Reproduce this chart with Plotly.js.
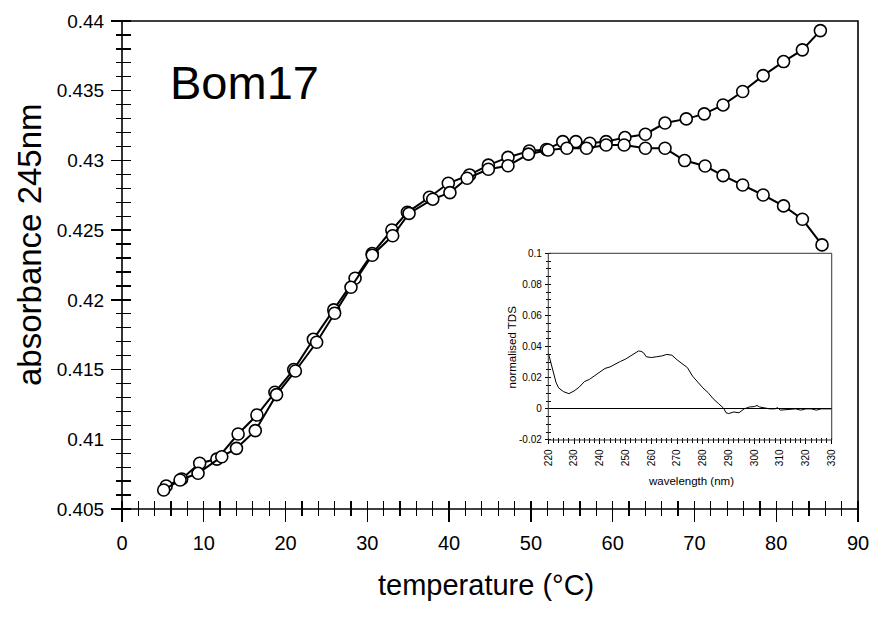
<!DOCTYPE html>
<html>
<head>
<meta charset="utf-8">
<script src="https://cdn.plot.ly/plotly-3.0.1.min.js"></script>
<style>html,body{margin:0;padding:0;background:#fff;}#chart{width:875px;height:617px;}</style>
</head>
<body>
<div id="chart"></div>
<script>
// ---- main chart data: absorbance at 245 nm vs temperature ----
var tempUp = [5.4, 7.3, 9.5, 11.6, 14.2, 16.5, 18.7, 21.0, 23.4, 25.9, 28.5, 30.6, 33.0, 34.9, 37.6, 39.9, 42.5, 44.8, 47.2, 49.8, 51.9, 53.9, 55.5, 57.2, 59.2, 61.5, 64.0, 66.4, 69.0, 71.2, 73.5, 75.9, 78.4, 80.9, 83.2, 85.4];
var absUp  = [0.40665, 0.40715, 0.40828, 0.40858, 0.41038, 0.41174, 0.41337, 0.41500, 0.41717, 0.41928, 0.42155, 0.42332, 0.42501, 0.42628, 0.42736, 0.42836, 0.42896, 0.42966, 0.43022, 0.43068, 0.43078, 0.43135, 0.43135, 0.43123, 0.43135, 0.43164, 0.43188, 0.43268, 0.43298, 0.43334, 0.43398, 0.43494, 0.43608, 0.43709, 0.43793, 0.43931];
var tempDown = [5.1, 7.1, 9.3, 12.2, 14.0, 16.3, 18.9, 21.2, 23.8, 26.0, 28.0, 30.6, 33.1, 35.1, 38.0, 40.1, 42.2, 44.8, 47.2, 49.7, 52.1, 54.4, 56.8, 59.2, 61.4, 64.0, 66.4, 68.8, 71.3, 73.5, 75.9, 78.4, 80.9, 83.2, 85.6];
var absDown  = [0.40636, 0.40708, 0.40756, 0.40875, 0.40935, 0.41062, 0.41320, 0.41490, 0.41696, 0.41904, 0.42090, 0.42320, 0.42460, 0.42620, 0.42722, 0.42769, 0.42872, 0.42937, 0.42962, 0.43045, 0.43075, 0.43087, 0.43087, 0.43111, 0.43111, 0.43087, 0.43087, 0.42999, 0.42960, 0.42891, 0.42824, 0.42752, 0.42674, 0.42578, 0.42394];
var xTickVals = [0, 10, 20, 30, 40, 50, 60, 70, 80, 90];
var xTickText = ["0", "10", "20", "30", "40", "50", "60", "70", "80", "90"];
var yTickVals = [0.405, 0.41, 0.415, 0.42, 0.425, 0.43, 0.435, 0.44];
var yTickText = ["0.405", "0.41", "0.415", "0.42", "0.425", "0.43", "0.435", "0.44"];

// ---- inset data: normalised TDS vs wavelength ----
var wavelength = [220,221,222,223,224,225,226,228,230,232,234,236,238,240,242,244,246,248,250,252,254,255,256,257,258,260,262,264,266,268,270,272,274,276,278,280,282,284,286,288,289,290,292,294,296,298,300,301,302,304,306,308,309,310,312,314,316,318,320,322,324,326,328,330];
var tds = [0.036,0.029,0.022,0.017,0.0135,0.012,0.011,0.0098,0.0115,0.014,0.0175,0.019,0.0215,0.0235,0.026,0.027,0.029,0.0305,0.032,0.034,0.036,0.0372,0.037,0.036,0.0335,0.033,0.0335,0.034,0.035,0.0345,0.0315,0.029,0.0265,0.021,0.017,0.0135,0.0105,0.0065,0.0035,0.0005,-0.0025,-0.003,-0.002,-0.0025,0.0,0.0012,0.0015,0.0022,0.0012,0.0005,0.0,0.0,0.0008,-0.0008,-0.0005,0.0,0.0,-0.0008,0.0,0.0,-0.0008,0.0,0.0002,0.0];
var insetXTickVals = [220,230,240,250,260,270,280,290,300,310,320,330];
var insetXTickText = ["220","230","240","250","260","270","280","290","300","310","320","330"];
var insetYTickVals = [-0.02, 0, 0.02, 0.04, 0.06, 0.08, 0.1];
var insetYTickText = ["-0.02", "0", "0.02", "0.04", "0.06", "0.08", "0.1"];

var FONT = "Liberation Sans, Arial, Helvetica, sans-serif";
var W = 875, H = 617, ML = 122, MR = 17, MT = 21, MB = 108;
var PW = W - ML - MR, PH = H - MT - MB;

var marker = {symbol: "circle", size: 12, color: "#ffffff", line: {color: "#000000", width: 1.6}};
var traces = [
  {x: tempUp, y: absUp, type: "scatter", mode: "lines+markers", line: {color: "#000", width: 2}, marker: marker, xaxis: "x", yaxis: "y", hoverinfo: "x+y"},
  {x: tempDown, y: absDown, type: "scatter", mode: "lines+markers", line: {color: "#000", width: 2}, marker: marker, xaxis: "x", yaxis: "y", hoverinfo: "x+y"},
  {x: wavelength, y: tds, type: "scatter", mode: "lines", line: {color: "#000", width: 1}, xaxis: "x2", yaxis: "y2", hoverinfo: "x+y"}
];

// axes are placed a few px inside the frame so that their outside ticks cross the frame line
var inMain = 9, inInset = 3;
var insetDomX = [0.5792, 0.9643], insetDomY = [0.1414, 0.524];

var layout = {
  width: W, height: H,
  margin: {l: ML, r: MR, t: MT, b: MB, pad: 0},
  paper_bgcolor: "#ffffff", plot_bgcolor: "rgba(0,0,0,0)",
  showlegend: false,
  font: {family: FONT, color: "#000"},
  xaxis: {domain: [0, 1], range: [0, 90], anchor: "free", position: inMain / PH,
    tickmode: "array", tickvals: xTickVals, ticktext: xTickText,
    ticks: "outside", ticklen: inMain + 12, tickwidth: 1.3, tickcolor: "#000",
    minor: {dtick: 2, ticks: "outside", ticklen: inMain + 6, tickwidth: 1.3, tickcolor: "#000"},
    showline: false, showgrid: false, zeroline: false, fixedrange: true,
    tickfont: {family: FONT, size: 20, color: "#000"}, ticklabelstandoff: 4},
  yaxis: {domain: [0, 1], range: [0.405, 0.44], anchor: "free", position: inMain / PW,
    tickmode: "array", tickvals: yTickVals, ticktext: yTickText,
    ticks: "outside", ticklen: inMain + 11, tickwidth: 1.3, tickcolor: "#000",
    minor: {dtick: 0.001, ticks: "outside", ticklen: inMain + 6, tickwidth: 1.3, tickcolor: "#000"},
    showline: false, showgrid: false, zeroline: false, fixedrange: true,
    tickfont: {family: FONT, size: 19, color: "#000"}, ticklabelstandoff: 3},
  xaxis2: {domain: insetDomX, range: [220, 330], anchor: "free", position: insetDomY[0] + inInset / PH,
    tickmode: "array", tickvals: insetXTickVals, ticktext: insetXTickText, tickangle: -90,
    ticks: "outside", ticklen: inInset + 3.5, tickwidth: 1, tickcolor: "#000",
    minor: {dtick: 2, ticks: "outside", ticklen: inInset + 2.5, tickwidth: 1, tickcolor: "#000"},
    showline: false, showgrid: false, zeroline: false, fixedrange: true,
    tickfont: {family: FONT, size: 10, color: "#000"}, ticklabelstandoff: 1},
  yaxis2: {domain: insetDomY, range: [-0.02, 0.1], anchor: "free", position: insetDomX[0] + inInset / PW,
    tickmode: "array", tickvals: insetYTickVals, ticktext: insetYTickText,
    ticks: "outside", ticklen: inInset + 3.5, tickwidth: 1, tickcolor: "#000",
    minor: {dtick: 0.005, ticks: "outside", ticklen: inInset + 2.5, tickwidth: 1, tickcolor: "#000"},
    showline: false, showgrid: false, fixedrange: true,
    zeroline: true, zerolinecolor: "#000", zerolinewidth: 1,
    tickfont: {family: FONT, size: 10, color: "#000"}, ticklabelstandoff: 1},
  shapes: [
    {type: "rect", xref: "x domain", yref: "y domain", x0: 0, x1: 1, y0: 0, y1: 1, line: {color: "#000", width: 1.6}, fillcolor: "rgba(0,0,0,0)", layer: "above"},
    {type: "rect", xref: "x2 domain", yref: "y2 domain", x0: 0, x1: 1, y0: 0, y1: 1, line: {color: "#333", width: 1}, fillcolor: "rgba(0,0,0,0)", layer: "above"}
  ],
  annotations: [
    {text: "Bom17", xref: "paper", yref: "paper", x: 0.0625, y: 0.873, xanchor: "left", yanchor: "middle", showarrow: false,
      font: {family: FONT, size: 47, color: "#000"}},
    {text: "absorbance 245nm", xref: "paper", yref: "paper", x: -0.125, y: 0.541, xanchor: "center", yanchor: "middle", textangle: -90, showarrow: false,
      font: {family: FONT, size: 33, color: "#000"}},
    {text: "temperature (°C)", xref: "paper", yref: "paper", x: 0.4946, y: -0.1557, xanchor: "center", yanchor: "middle", showarrow: false,
      font: {family: FONT, size: 29, color: "#000"}},
    {text: "normalised TDS", xref: "paper", yref: "paper", x: 0.5295, y: 0.3326, xanchor: "center", yanchor: "middle", textangle: -90, showarrow: false,
      font: {family: FONT, size: 11.5, color: "#000"}},
    {text: "wavelength (nm)", xref: "paper", yref: "paper", x: 0.7728, y: 0.058, xanchor: "center", yanchor: "middle", showarrow: false,
      font: {family: FONT, size: 11.5, color: "#000"}}
  ]
};

Plotly.newPlot("chart", traces, layout, {displayModeBar: false, staticPlot: true});
</script>
</body>
</html>
